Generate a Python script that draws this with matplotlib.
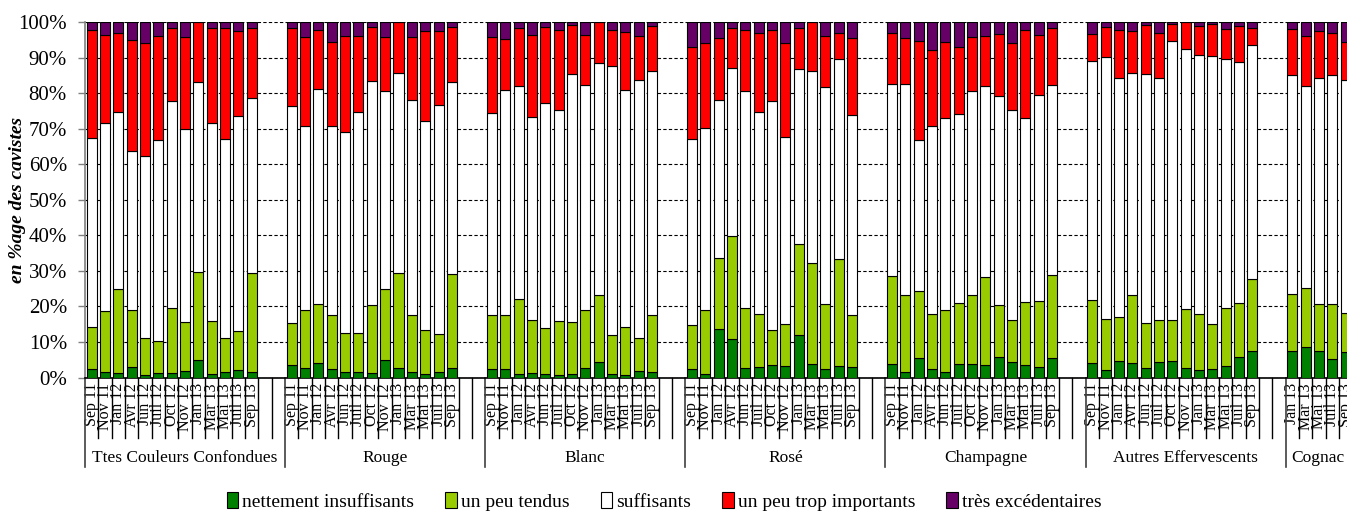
import matplotlib
matplotlib.use("Agg")
import matplotlib.pyplot as plt
from matplotlib.patches import Patch
import numpy as np

plt.rcParams['font.family'] = ['Liberation Serif', 'DejaVu Serif']

# Catégories
groupes = ["Ttes Couleurs Confondues", "Rouge", "Blanc", "Rosé",
           "Champagne", "Autres Effervescents", "Cognac"]
mois = ["Sep 11", "Nov 11", "Jan 12", "Avr 12", "Jun 12", "Juil 12", "Oct 12",
        "Nov 12", "Jan 13", "Mar 13", "Mai 13", "Juil 13", "Sep 13"]
mois_cognac = ["Jan 13", "Mar 13", "Mai 13", "Juil 13", "Sep 13"]

# Parts des cavistes (%) par groupe
nettement = [
    [2.5, 1.7, 1.2, 3.0, 0.8, 1.2, 1.2, 1.9, 5.0, 1.1, 1.7, 2.0, 1.5],
    [3.4, 2.8, 4.2, 2.4, 1.6, 1.7, 1.4, 4.9, 2.8, 1.5, 1.1, 1.7, 2.8],
    [2.4, 2.4, 1.1, 1.4, 1.1, 0.8, 1.1, 2.7, 4.4, 1.1, 0.8, 1.9, 1.6],
    [2.4, 1.1, 13.7, 10.8, 2.8, 3.1, 3.4, 3.2, 12.0, 3.7, 2.3, 3.2, 3.1],
    [3.7, 1.7, 5.5, 2.3, 1.7, 3.7, 3.9, 3.4, 5.9, 4.4, 3.4, 3.1, 5.4],
    [4.2, 2.0, 4.8, 4.2, 2.7, 4.5, 4.8, 2.7, 2.0, 2.3, 3.2, 5.9, 7.5],
    [7.5, 8.7, 7.5, 5.3, 7.3],
]
tendus = [
    [11.8, 16.9, 23.6, 16.1, 10.2, 9.0, 18.4, 13.6, 24.6, 14.8, 9.3, 11.1, 27.9],
    [12.0, 16.3, 16.6, 15.3, 10.9, 10.8, 19.1, 19.9, 26.6, 16.2, 12.4, 10.5, 26.2],
    [15.3, 15.1, 21.1, 14.8, 12.9, 15.0, 14.4, 16.3, 18.9, 10.9, 13.5, 9.1, 15.9],
    [12.5, 17.8, 19.8, 28.9, 16.8, 14.8, 10.1, 12.0, 25.7, 28.4, 18.5, 30.1, 14.4],
    [24.8, 21.6, 18.8, 15.6, 17.2, 17.3, 19.4, 24.9, 14.6, 11.8, 17.9, 18.4, 23.4],
    [17.5, 14.6, 12.2, 18.9, 12.6, 11.6, 11.3, 16.7, 15.8, 12.8, 16.4, 15.2, 20.2],
    [16.1, 16.5, 13.3, 15.3, 11.0],
]
suffisants = [
    [53.2, 52.9, 49.8, 44.7, 51.3, 56.6, 58.2, 54.3, 53.6, 55.7, 56.0, 60.4, 49.1],
    [60.9, 51.8, 60.5, 53.2, 56.6, 62.1, 62.9, 55.8, 56.4, 60.4, 58.7, 64.4, 54.0],
    [56.8, 63.3, 59.7, 57.1, 63.1, 59.5, 69.9, 63.2, 65.1, 75.7, 66.5, 72.6, 68.6],
    [52.3, 51.4, 44.6, 47.5, 61.1, 56.7, 64.2, 52.6, 49.0, 54.0, 60.9, 56.4, 56.4],
    [54.1, 59.4, 42.5, 53.0, 54.1, 53.1, 57.4, 53.8, 58.6, 59.1, 51.6, 58.1, 53.4],
    [67.4, 73.5, 67.3, 62.6, 70.2, 68.2, 78.5, 72.9, 72.9, 75.3, 69.9, 67.7, 65.9],
    [61.4, 56.8, 63.5, 64.4, 65.5],
]
trop_importants = [
    [30.2, 25.0, 22.3, 31.1, 31.9, 29.4, 20.4, 25.9, 16.8, 26.6, 31.2, 23.9, 19.7],
    [21.9, 24.8, 16.4, 23.6, 26.9, 21.4, 15.3, 15.1, 14.2, 17.6, 25.3, 20.9, 15.5],
    [21.2, 14.3, 16.3, 23.1, 21.4, 22.6, 13.7, 14.3, 11.6, 10.2, 16.4, 12.6, 12.7],
    [25.7, 23.9, 17.3, 11.0, 17.0, 22.3, 20.2, 26.4, 11.5, 13.9, 14.5, 7.1, 21.5],
    [14.3, 12.7, 28.0, 21.3, 21.5, 19.0, 15.0, 13.9, 17.6, 18.9, 24.8, 16.9, 16.0],
    [7.6, 8.6, 13.4, 11.9, 13.7, 12.7, 4.8, 7.7, 8.3, 9.0, 8.6, 10.1, 4.8],
    [13.1, 14.2, 13.3, 12.0, 10.6],
]
excedentaires = [
    [2.3, 3.5, 3.1, 5.1, 5.8, 3.8, 1.8, 4.3, 0.0, 1.8, 1.8, 2.6, 1.8],
    [1.8, 4.3, 2.3, 5.5, 4.0, 4.0, 1.3, 4.3, 0.0, 4.3, 2.5, 2.5, 1.5],
    [4.3, 4.9, 1.8, 3.6, 1.5, 2.1, 0.9, 3.5, 0.0, 2.1, 2.8, 3.8, 1.2],
    [7.1, 5.8, 4.6, 1.8, 2.3, 3.1, 2.1, 5.8, 1.8, 0.0, 3.8, 3.2, 4.6],
    [3.1, 4.6, 5.2, 7.8, 5.5, 6.9, 4.3, 4.0, 3.3, 5.8, 2.3, 3.5, 1.8],
    [3.3, 1.3, 2.3, 2.4, 0.8, 3.0, 0.6, 0.0, 1.0, 0.6, 1.9, 1.1, 1.6],
    [1.9, 3.8, 2.4, 3.0, 5.6],
]

series = [nettement, tendus, suffisants, trop_importants, excedentaires]
noms = ["nettement insuffisants", "un peu tendus", "suffisants",
        "un peu trop importants", "très excédentaires"]
couleurs = ["#008000", "#99CC00", "#FFFFFF", "#FF0000", "#660066"]

largeur_groupe = 15  # 13 mois + 2 cases vides
x_max = 94.1

fig = plt.figure(figsize=(13.47, 5.13), dpi=100)
ax = fig.add_axes([85 / 1347, 0.264, 1 - 85 / 1347, 0.693])

positions = []
etiquettes = []
for g, nom in enumerate(groupes):
    labels_g = mois_cognac if nom == "Cognac" else mois
    x = np.arange(len(labels_g)) + g * largeur_groupe
    positions.extend(x)
    etiquettes.extend(labels_g)
    bas = np.zeros(len(labels_g))
    for s, couleur in zip(series, couleurs):
        vals = np.array(s[g]) / 100
        ax.bar(x, vals, width=0.75, bottom=bas, color=couleur,
               edgecolor="black", linewidth=0.8, zorder=3)
        bas += vals

ax.set_xlim(-0.5, x_max)
ax.set_ylim(0, 1)
ax.set_yticks(np.arange(0, 1.01, 0.1))
ax.set_yticklabels([f"{int(round(v * 100))}%" for v in np.arange(0, 1.01, 0.1)],
                   fontsize=15)
ax.tick_params(axis="y", length=5, width=1, pad=8, color="#808080")
ax.yaxis.grid(True, linestyle=(0, (3, 2)), color="black", linewidth=0.8, zorder=0)
ax.set_axisbelow(True)

ax.set_xticks(positions)
ax.set_xticklabels(etiquettes, rotation=90, fontsize=11.5, va="top",
                   linespacing=0.9)
ax.tick_params(axis="x", length=0, pad=4)

for side in ["top", "right"]:
    ax.spines[side].set_visible(False)
ax.spines["left"].set_color("#808080")
ax.spines["left"].set_linewidth(1.2)
ax.spines["bottom"].set_color("black")
ax.spines["bottom"].set_linewidth(1.2)

# traits entre les catégories et séparateurs de groupes
trans = ax.get_xaxis_transform()
for k in range(int(x_max) + 1):
    xb = k - 0.5
    if k % largeur_groupe == 0:
        ax.plot([xb, xb], [0, -0.252], color="#404040", lw=1.2,
                transform=trans, clip_on=False)
    else:
        ax.plot([xb, xb], [0, -0.17], color="black", lw=1.0,
                transform=trans, clip_on=False)

for g, nom in enumerate(groupes):
    debut = g * largeur_groupe - 0.5
    if nom == "Cognac":
        ax.text(debut + 0.4, -0.226, nom, transform=trans, ha="left",
                va="center", fontsize=12.5)
    else:
        ax.text(debut + largeur_groupe / 2, -0.226, nom, transform=trans,
                ha="center", va="center", fontsize=12.5)

fig.text(18 / 1347, 0.61, "en %age des cavistes", rotation=90, ha="center",
         va="center", fontsize=14, fontweight="bold", fontstyle="italic")

poignees = [Patch(facecolor=c, edgecolor="black", linewidth=0.8) for c in couleurs]
fig.legend(poignees, noms, loc="center", bbox_to_anchor=(0.493, 0.022),
           ncol=5, frameon=False, fontsize=14, handlelength=0.6,
           handleheight=0.9, handletextpad=0.2, columnspacing=1.6)

fig.savefig("out.png", dpi=100)
